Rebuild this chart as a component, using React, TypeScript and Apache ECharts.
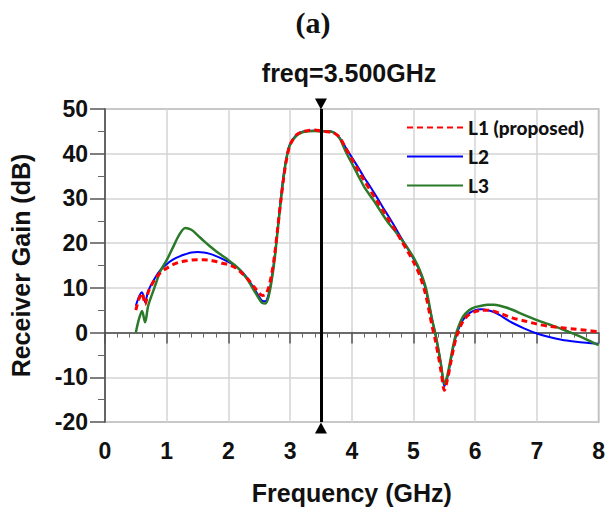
import React, { useEffect, useRef } from "react";
import * as echarts from "echarts";

// Frequency grid (GHz)
const freqGHz = [
  0.5, 0.55, 0.6, 0.65, 0.7, 0.8, 0.9, 1.0,
  1.1, 1.2, 1.3, 1.4, 1.5, 1.6, 1.7, 1.8, 1.9,
  2.0, 2.1, 2.2, 2.3, 2.4, 2.5,
  2.55, 2.6, 2.65, 2.7, 2.75, 2.8, 2.85, 2.9, 2.95,
  3.0, 3.1, 3.2, 3.3, 3.4, 3.5, 3.6, 3.7, 3.8, 3.9,
  4.0, 4.1, 4.2, 4.3, 4.4, 4.5, 4.6, 4.7, 4.8, 4.9,
  5.0, 5.1, 5.2, 5.3,
  5.35, 5.4, 5.45, 5.5, 5.55, 5.6, 5.65, 5.7,
  5.8, 5.9, 6.0, 6.1, 6.2, 6.3, 6.4, 6.5, 6.6,
  6.8, 7.0, 7.2, 7.4, 7.6, 7.8, 8.0,
];

// L1 (proposed) receiver gain (dB)
const gainL1 = [
  5.0, 7.5, 8.8, 6.3, 9.0, 11.7, 13.4, 14.4,
  15.2, 15.7, 16.0, 16.2, 16.3, 16.3, 16.2, 15.9, 15.5,
  15.2, 14.6, 13.5, 12.2, 10.5, 8.8,
  8.3, 8.5, 10.0, 13.0, 17.5, 23.5, 29.5, 35.0, 39.3,
  42.0, 44.2, 44.9, 45.2, 45.3, 45.1, 44.9, 44.7, 43.7, 41.3,
  38.8, 36.4, 34.0, 31.8, 29.6, 27.4, 25.2, 23.0, 20.6, 18.3,
  15.8, 12.8, 8.3, 1.5,
  -1.5, -5.0, -9.0, -12.9, -10.5, -7.0, -3.5, -0.8,
  2.5, 4.0, 4.7, 5.0, 5.0, 4.8, 4.3, 3.8, 3.3,
  2.6, 1.9, 1.4, 1.1, 0.8, 0.5, 0.2,
];

// L2 receiver gain (dB)
const gainL2 = [
  6.0, 8.0, 9.0, 6.8, 9.3, 12.0, 14.0, 15.3,
  16.3, 17.0, 17.5, 17.9, 18.0, 17.9, 17.6, 17.1, 16.5,
  15.8, 15.0, 13.9, 12.3, 10.2, 8.0,
  7.1, 7.0, 8.5, 12.0, 17.0, 23.5, 30.0, 35.8, 39.8,
  42.2, 44.2, 44.9, 45.1, 45.2, 45.0, 45.0, 44.8, 43.6, 41.4,
  39.2, 37.0, 34.7, 32.6, 30.4, 28.1, 25.9, 23.6, 21.2, 18.9,
  16.5, 13.8, 9.5, 3.0,
  0.0, -3.5, -7.5, -12.0, -10.0, -6.5, -3.0, -0.3,
  2.8, 4.3, 5.0, 5.2, 5.0, 4.6, 3.9, 3.0, 2.2,
  0.9, -0.2, -1.0, -1.6, -2.0, -2.3, -2.5,
];

// L3 receiver gain (dB)
const gainL3 = [
  0.0, 3.0, 4.8, 2.3, 6.0, 10.0, 13.8, 16.2,
  19.0, 21.8, 23.4, 23.0, 21.8, 20.5, 19.3, 18.2, 17.2,
  16.2, 15.1, 13.8, 12.0, 9.8, 7.5,
  6.6, 6.5, 8.0, 11.5, 16.5, 23.0, 29.5, 35.3, 39.5,
  42.0, 44.0, 44.8, 45.0, 45.1, 45.0, 45.0, 44.8, 43.5, 40.5,
  37.9, 35.2, 32.6, 30.6, 28.6, 26.4, 24.4, 22.7, 20.9, 19.0,
  16.8, 14.0, 10.0, 3.0,
  0.0, -3.5, -7.5, -11.5, -9.5, -6.0, -2.5, 0.2,
  3.5, 5.0, 5.7, 6.0, 6.2, 6.2, 6.0, 5.6, 5.1,
  3.9, 2.8, 1.8, 0.8, -0.3, -1.5, -2.8,
];

const seriesNames = ["L1 (proposed)", "L2", "L3"];
const markerFreq = 3.5;
const markerTitle = "freq=3.500GHz";
const panelLabel = "(a)";
const xMin = 0;
const xMax = 8;
const yMin = -20;
const yMax = 50;

const sans = "'Liberation Sans', Arial, sans-serif";

function pairs(vals: number[]) {
  return freqGHz.map((f, i) => [f, vals[i]]);
}

export default function App() {
  const ref = useRef<HTMLDivElement>(null);
  useEffect(() => {
    document.body.style.margin = "0";
    const chart = echarts.init(ref.current!, null, { renderer: "svg" });
    const axisText = {
      fontFamily: sans,
      fontWeight: "bold" as const,
      fontSize: 23,
      color: "#111",
    };
    const nameText = {
      fontFamily: sans,
      fontWeight: "bold" as const,
      fontSize: 25,
      color: "#111",
    };
    const hiddenSymbol = {
      color: "rgba(0,0,0,0)",
      borderColor: "rgba(0,0,0,0)",
      borderWidth: 0,
    };
    const option: any = {
      animation: false,
      backgroundColor: "#fff",
      title: [
        {
          text: panelLabel,
          left: 308,
          top: 2,
          textAlign: "center",
          textStyle: {
            fontFamily: "'Liberation Serif', 'Times New Roman', serif",
            fontWeight: "bold",
            fontSize: 30,
            color: "#111",
          },
        },
        {
          text: markerTitle,
          left: 344,
          top: 55,
          textAlign: "center",
          textStyle: nameText,
        },
      ],
      legend: {
        orient: "vertical",
        left: 401,
        top: 113,
        itemWidth: 56,
        itemHeight: 14,
        itemGap: 10,
        selectedMode: false,
        itemStyle: hiddenSymbol,
        data: [
          { name: seriesNames[0], itemStyle: hiddenSymbol },
          { name: seriesNames[1], itemStyle: hiddenSymbol },
          { name: seriesNames[2], itemStyle: hiddenSymbol },
        ],
        lineStyle: { width: 2 },
        textStyle: {
          fontFamily: "Lato, 'Open Sans', sans-serif",
          fontWeight: 900,
          fontSize: 19,
          color: "#111",
        },
      },
      grid: {
        left: 104,
        top: 109,
        right: 8,
        bottom: 87,
        show: true,
        borderColor: "#888",
        borderWidth: 1.5,
      },
      xAxis: {
        type: "value",
        min: xMin,
        max: xMax,
        interval: 1,
        name: "Frequency (GHz)",
        nameLocation: "middle",
        nameGap: 58,
        nameTextStyle: nameText,
        axisLine: { lineStyle: { color: "#444", width: 1.5 } },
        axisTick: { length: 11, lineStyle: { color: "#555", width: 1.5 } },
        minorTick: {
          show: true,
          splitNumber: 5,
          length: 5,
          lineStyle: { color: "#666", width: 1 },
        },
        splitLine: { show: true, lineStyle: { color: "#d4d4d4", width: 1.5 } },
        axisLabel: { ...axisText, margin: 17 },
      },
      yAxis: {
        type: "value",
        min: yMin,
        max: yMax,
        interval: 10,
        name: "Receiver Gain (dB)",
        nameLocation: "middle",
        nameGap: 72,
        nameTextStyle: nameText,
        axisLine: { show: true, lineStyle: { color: "#444", width: 1.5 } },
        axisTick: { show: true, length: 15, lineStyle: { color: "#555", width: 1.5 } },
        minorTick: {
          show: true,
          splitNumber: 2,
          length: 7,
          lineStyle: { color: "#666", width: 1 },
        },
        splitLine: { show: true, lineStyle: { color: "#d4d4d4", width: 1.5 } },
        axisLabel: { ...axisText, margin: 17 },
      },
      series: [
        {
          name: seriesNames[1],
          type: "line",
          data: pairs(gainL2),
          symbol: "none",
          smooth: 0.3,
          lineStyle: { color: "#0000ff", width: 2 },
          itemStyle: { color: "#0000ff" },
        },
        {
          name: seriesNames[2],
          type: "line",
          data: pairs(gainL3),
          symbol: "none",
          smooth: 0.3,
          lineStyle: { color: "#2a7a2a", width: 2.5 },
          itemStyle: { color: "#2a7a2a" },
        },
        {
          name: seriesNames[0],
          type: "line",
          data: pairs(gainL1),
          symbol: "none",
          smooth: 0.3,
          lineStyle: { color: "#ff0000", width: 3, type: [6, 4] },
          itemStyle: { color: "#ff0000" },
          markLine: {
            silent: true,
            symbol: ["none", "none"],
            label: { show: false },
            lineStyle: { color: "#000", width: 3, type: "solid" },
            data: [[{ coord: [markerFreq, yMax] }, { coord: [markerFreq, yMin] }]],
          },
          markPoint: {
            silent: true,
            label: { show: false },
            itemStyle: { color: "#000" },
            data: [
              {
                coord: [markerFreq, yMax],
                symbol: "triangle",
                symbolRotate: 180,
                symbolSize: [12, 11],
                symbolOffset: [0, -5],
              },
              {
                coord: [markerFreq, yMin],
                symbol: "triangle",
                symbolSize: [12, 11],
                symbolOffset: [0, 6],
              },
            ],
          },
        },
      ],
    };
    chart.setOption(option);
    return () => chart.dispose();
  }, []);
  return <div ref={ref} style={{ width: 608, height: 510 }} />;
}
